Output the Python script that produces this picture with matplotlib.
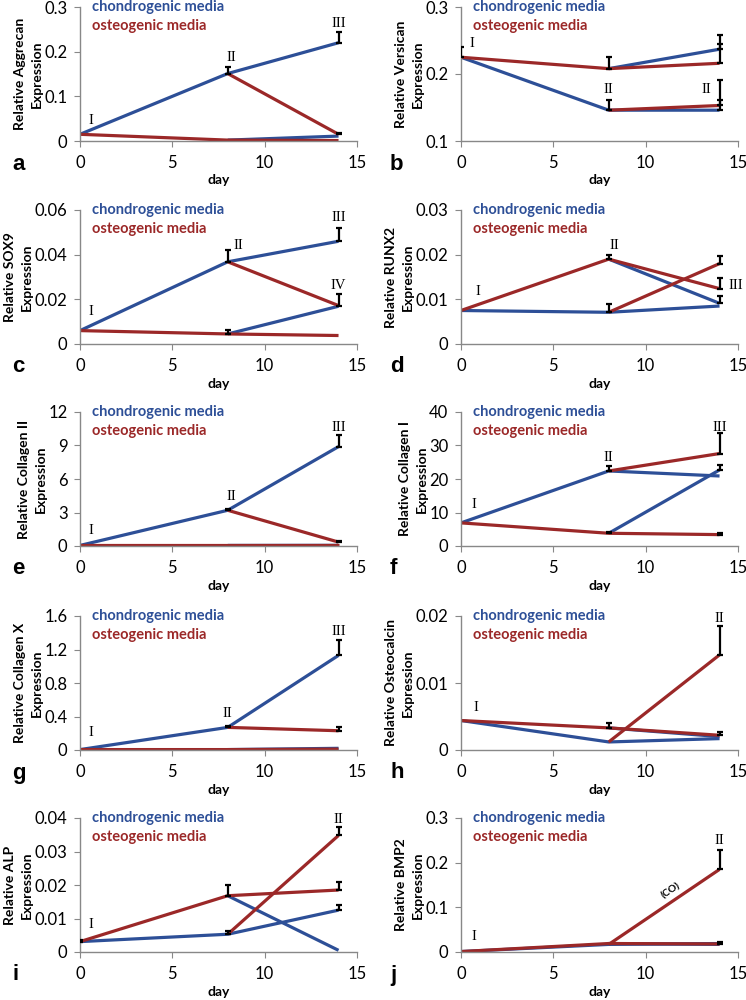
import numpy as np
import matplotlib
matplotlib.use('Agg')
import matplotlib.pyplot as plt

plt.rcParams['font.family'] = ['Lato', 'DejaVu Sans']

days = [0, 8, 14]
genes = ['Aggrecan', 'Versican', 'SOX9', 'RUNX2', 'Collagen II',
         'Collagen I', 'Collagen X', 'Osteocalcin', 'ALP', 'BMP2']
letters = ['a', 'b', 'c', 'd', 'e', 'f', 'g', 'h', 'i', 'j']

# chondrogenic / osteogenic media at day 0, 8, 14
chondro = [[0.015, 0.151, 0.220], [0.225, 0.146, 0.146], [0.006, 0.0368, 0.046],
           [0.0075, 0.0071, 0.0085], [0.05, 3.2, 8.9], [6.9, 22.4, 20.9],
           [0.005, 0.27, 1.13], [0.0044, 0.0012, 0.0017], [0.0031, 0.0053, 0.0125],
           [0.001, 0.017, 0.019]]
osteo = [[0.015, 0.002, 0.001], [0.225, 0.208, 0.216], [0.006, 0.0045, 0.0038],
         [0.0075, 0.019, 0.0124], [0.05, 0.05, 0.05], [6.9, 3.8, 3.4],
         [0.005, 0.005, 0.01], [0.0044, 0.0033, 0.0022], [0.0031, 0.0168, 0.0185],
         [0.001, 0.019, 0.018]]
# switched media at day 8 -> value at day 14
chondro_to_osteo = [0.015, 0.153, 0.0172, 0.018, 0.35, 27.6, 0.23, 0.0142, 0.0348, 0.185]
osteo_to_chondro = [0.011, 0.237, 0.0169, 0.0091, 0.06, 22.7, 0.02, 0.0020, 0.0005, 0.017]

# upper error bars
chondro_err = [[0, 0.015, 0.024], [0.015, 0.015, 0.015], [0, 0.0052, 0.006],
               [0, 0.0018, 0], [0, 0.1, 1.0], [0, 1.5, 0],
               [0, 0.02, 0.18], [0, 0, 0], [0.0005, 0.001, 0.0015], [0, 0, 0.003]]
osteo_err = [[0, 0, 0], [0, 0.017, 0.029], [0, 0.0018, 0],
             [0, 0.001, 0.0023], [0, 0, 0], [0, 0.5, 0.5],
             [0, 0, 0], [0, 0.0008, 0.0005], [0, 0.0032, 0.0023], [0, 0, 0]]
co_err = [0.004, 0.038, 0.005, 0.0018, 0.1, 6.0, 0.04, 0.0043, 0.0025, 0.043]
oc_err = [0, 0.021, 0, 0.0016, 0, 1.5, 0, 0, 0, 0]

ylims = [(0, 0.3), (0.1, 0.3), (0, 0.06), (0, 0.03), (0, 12),
         (0, 40), (0, 1.6), (0, 0.02), (0, 0.04), (0, 0.3)]
yticks = [[0, 0.1, 0.2, 0.3], [0.1, 0.2, 0.3], [0, 0.02, 0.04, 0.06],
          [0, 0.01, 0.02, 0.03], [0, 3, 6, 9, 12], [0, 10, 20, 30, 40],
          [0, 0.4, 0.8, 1.2, 1.6], [0, 0.01, 0.02], [0, 0.01, 0.02, 0.03, 0.04],
          [0, 0.1, 0.2, 0.3]]

# roman numeral labels (text, day, value)
numerals = [[('I', 0.6, 0.045), ('II', 8.2, 0.188), ('III', 14, 0.262)],
            [('I', 0.6, 0.245), ('II', 8.0, 0.177), ('II', 13.3, 0.177)],
            [('I', 0.6, 0.0145), ('II', 8.6, 0.044), ('III', 14, 0.0565), ('IV', 14, 0.0263)],
            [('I', 0.9, 0.0117), ('II', 8.3, 0.022), ('III', 14.9, 0.0132)],
            [('I', 0.6, 1.35), ('II', 8.2, 4.4), ('III', 14, 10.6)],
            [('I', 0.7, 12.5), ('II', 8.0, 26.4), ('III', 14, 35.3)],
            [('I', 0.6, 0.21), ('II', 8.0, 0.43), ('III', 14, 1.41)],
            [('I', 0.8, 0.0063), ('II', 14, 0.0196)],
            [('I', 0.6, 0.0083), ('II', 14, 0.0396)],
            [('I', 0.7, 0.035), ('II', 14, 0.249)]]

blue = '#2D4F97'
red = '#9B2828'

fig = plt.figure(figsize=(7.46, 10), dpi=100)
lefts = [80, 461]
tops = [7, 210, 412, 616, 818]

for k in range(10):
    row, col = k // 2, k % 2
    ax = fig.add_axes([lefts[col] / 746, 1 - (tops[row] + 134) / 1000, 277 / 746, 0.134])

    lw = 2.3
    ax.plot(days, chondro[k], color=blue, lw=lw, solid_capstyle='butt')
    ax.plot([8, 14], [osteo[k][1], osteo_to_chondro[k]], color=blue, lw=lw, solid_capstyle='butt')
    ax.plot(days, osteo[k], color=red, lw=lw, solid_capstyle='butt')
    ax.plot([8, 14], [chondro[k][1], chondro_to_osteo[k]], color=red, lw=lw, solid_capstyle='butt')

    ex = days + days + [14, 14]
    ey = chondro[k] + osteo[k] + [chondro_to_osteo[k], osteo_to_chondro[k]]
    ee = chondro_err[k] + osteo_err[k] + [co_err[k], oc_err[k]]
    for x, y, e in zip(ex, ey, ee):
        if e > 0:
            ax.errorbar([x], [y], yerr=[[0], [e]], fmt='none', ecolor='black',
                        elinewidth=1.6, capsize=2.5, capthick=1.6, zorder=5)

    for t, x, y in numerals[k]:
        ax.text(x, y, t, family='Liberation Serif', fontsize=10.5, ha='center', va='center')

    if k == 9:
        ax.text(11.35, 0.138, '(CO)', fontsize=7.5, fontweight='bold', rotation=34,
                ha='center', va='center')

    ax.text(0.043, 1.0, 'chondrogenic media', transform=ax.transAxes, color=blue,
            fontsize=10.5, fontweight='bold', va='center')
    ax.text(0.043, 0.858, 'osteogenic media', transform=ax.transAxes, color=red,
            fontsize=10.5, fontweight='bold', va='center')

    ax.set_xlim(0, 15)
    ax.set_ylim(*ylims[k])
    ax.set_xticks([0, 5, 10, 15])
    ax.set_yticks(yticks[k])
    ax.set_yticklabels([f'{v:g}' for v in yticks[k]])
    for s in ['top', 'right']:
        ax.spines[s].set_visible(False)
    for s in ['left', 'bottom']:
        ax.spines[s].set_color('#888888')
        ax.spines[s].set_linewidth(1)
    ax.tick_params(direction='out', length=4, color='#888888', labelsize=12)
    ax.tick_params(axis='x', pad=6)
    ax.tick_params(axis='y', pad=5)

    ax.set_xlabel('day', fontsize=10, fontweight='bold')
    ax.xaxis.set_label_coords(0.5, -0.25)
    ax.set_ylabel('Relative ' + genes[k] + '\nExpression', fontsize=10, fontweight='bold',
                  linespacing=1.5, labelpad=1)

    fig.text((12 if col == 0 else 390) / 746, 1 - (tops[row] + 157) / 1000, letters[k],
             fontsize=16, fontweight='bold', family='Liberation Sans', va='center')

fig.savefig('out.png', dpi=100)
